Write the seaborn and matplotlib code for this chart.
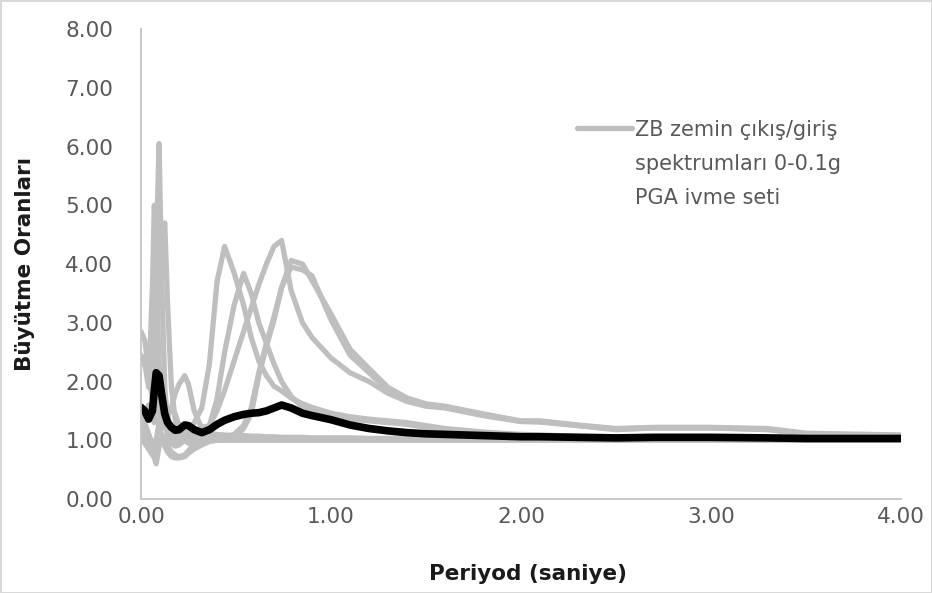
import pandas as pd
import matplotlib
matplotlib.use("Agg")
import matplotlib.pyplot as plt
from matplotlib.lines import Line2D
import seaborn as sns

# Periyot ekseni (saniye)
periyot = [0.00, 0.02, 0.04, 0.06, 0.07, 0.08, 0.095, 0.11, 0.125, 0.14,
           0.16, 0.18, 0.20, 0.23, 0.25, 0.28, 0.32, 0.36, 0.40, 0.44,
           0.49, 0.54, 0.58, 0.62, 0.66, 0.70, 0.74, 0.79, 0.85, 0.90,
           1.00, 1.10, 1.20, 1.30, 1.40, 1.50, 1.60, 1.80, 2.00, 2.10,
           2.30, 2.50, 2.70, 3.00, 3.30, 3.50, 4.00]

# Tek tek kayitlarin buyutme oranlari (gri)
kayit_s1 = [2.85, 2.70, 2.20, 1.90, 2.60, 4.20, 6.05, 3.60, 1.90, 1.30,
            1.05, 0.95, 1.00, 1.05, 1.08, 1.06, 1.05, 1.04, 1.04, 1.03,
            1.03, 1.03, 1.03, 1.03, 1.03, 1.03, 1.02, 1.02, 1.02, 1.02,
            1.02, 1.02, 1.02, 1.02, 1.02, 1.02, 1.02, 1.02, 1.02, 1.02,
            1.02, 1.02, 1.02, 1.02, 1.02, 1.02, 1.02]
kayit_s2 = [2.45, 2.30, 1.90, 3.60, 5.00, 3.90, 2.30, 1.60, 1.30, 1.40,
            1.55, 1.45, 1.25, 1.12, 1.05, 1.04, 1.04, 1.03, 1.03, 1.03,
            1.03, 1.03, 1.03, 1.03, 1.03, 1.03, 1.03, 1.03, 1.03, 1.03,
            1.02, 1.02, 1.02, 1.02, 1.02, 1.02, 1.02, 1.02, 1.02, 1.02,
            1.02, 1.02, 1.02, 1.02, 1.02, 1.02, 1.02]
kayit_s3 = [2.30, 2.40, 2.10, 1.70, 1.90, 2.60, 3.60, 4.40, 4.70, 3.30,
            1.90, 1.35, 1.10, 1.00, 0.95, 1.00, 1.05, 1.05, 1.04, 1.04,
            1.03, 1.03, 1.03, 1.03, 1.03, 1.03, 1.03, 1.03, 1.03, 1.03,
            1.02, 1.02, 1.02, 1.02, 1.02, 1.02, 1.02, 1.02, 1.02, 1.02,
            1.02, 1.02, 1.02, 1.02, 1.02, 1.02, 1.02]
kayit_s4 = [1.35, 1.45, 1.60, 1.40, 1.30, 1.50, 1.80, 2.00, 1.70, 1.45,
            1.55, 1.80, 1.95, 2.10, 1.95, 1.50, 1.20, 1.10, 1.08, 1.06,
            1.05, 1.05, 1.05, 1.04, 1.04, 1.04, 1.04, 1.04, 1.03, 1.03,
            1.03, 1.03, 1.03, 1.03, 1.03, 1.03, 1.03, 1.03, 1.03, 1.03,
            1.03, 1.03, 1.03, 1.03, 1.03, 1.03, 1.03]
kayit_f1 = [1.10, 1.05, 0.95, 0.85, 0.80, 0.90, 1.00, 1.05, 1.00, 0.95,
            0.95, 1.00, 1.02, 1.02, 1.01, 1.01, 1.01, 1.00, 1.00, 1.00,
            1.00, 1.00, 1.00, 1.00, 1.00, 1.00, 1.00, 1.00, 1.00, 1.00,
            1.00, 1.00, 1.00, 1.00, 1.00, 1.00, 1.00, 1.00, 1.00, 1.00,
            1.00, 1.00, 1.00, 1.00, 1.00, 1.00, 1.00]
kayit_f2 = [1.20, 1.30, 1.10, 0.90, 0.70, 0.60, 0.90, 1.30, 1.60, 1.40,
            1.20, 1.10, 1.05, 1.15, 1.20, 1.15, 1.12, 1.12, 1.10, 1.09,
            1.08, 1.08, 1.07, 1.07, 1.06, 1.06, 1.05, 1.05, 1.05, 1.04,
            1.04, 1.04, 1.03, 1.03, 1.03, 1.03, 1.02, 1.02, 1.02, 1.02,
            1.02, 1.02, 1.02, 1.02, 1.02, 1.02, 1.02]
kayit_a = [1.20, 1.25, 1.10, 0.95, 0.90, 1.00, 1.30, 1.60, 1.40, 1.20,
           1.05, 0.95, 0.95, 1.05, 1.15, 1.30, 1.55, 2.30, 3.70, 4.30,
           3.85, 3.30, 2.75, 2.35, 2.10, 1.92, 1.84, 1.72, 1.62, 1.56,
           1.46, 1.40, 1.36, 1.33, 1.30, 1.25, 1.20, 1.14, 1.10, 1.09,
           1.07, 1.06, 1.06, 1.06, 1.05, 1.04, 1.04]
kayit_b = [1.15, 1.10, 1.00, 0.90, 0.85, 0.95, 1.20, 1.40, 1.30, 1.10,
           0.95, 0.90, 0.92, 1.00, 1.08, 1.15, 1.22, 1.25, 1.70, 2.50,
           3.30, 3.84, 3.50, 3.00, 2.65, 2.30, 2.00, 1.75, 1.56, 1.50,
           1.40, 1.36, 1.33, 1.30, 1.27, 1.22, 1.18, 1.12, 1.08, 1.08,
           1.06, 1.05, 1.05, 1.05, 1.04, 1.04, 1.04]
kayit_c = [1.05, 1.00, 0.90, 0.80, 0.78, 0.85, 1.00, 1.10, 1.00, 0.90,
           0.80, 0.75, 0.72, 0.75, 0.82, 0.95, 1.10, 1.25, 1.50, 1.85,
           2.35, 2.85, 3.25, 3.65, 4.00, 4.30, 4.40, 3.55, 3.00, 2.75,
           2.40, 2.15, 2.00, 1.80, 1.66, 1.58, 1.55, 1.42, 1.32, 1.31,
           1.25, 1.18, 1.21, 1.21, 1.18, 1.10, 1.08]
kayit_d = [1.00, 0.95, 0.85, 0.75, 0.72, 0.80, 0.95, 1.00, 0.90, 0.80,
           0.72, 0.70, 0.70, 0.72, 0.78, 0.85, 0.92, 0.98, 1.00, 1.02,
           1.05, 1.20, 1.45, 2.10, 2.60, 3.05, 3.60, 4.06, 4.00, 3.72,
           3.15, 2.55, 2.22, 1.90, 1.72, 1.62, 1.58, 1.45, 1.33, 1.33,
           1.26, 1.20, 1.22, 1.22, 1.20, 1.12, 1.09]
kayit_d2 = [1.05, 1.00, 0.90, 0.78, 0.75, 0.82, 0.98, 1.05, 0.92, 0.82,
            0.75, 0.72, 0.72, 0.74, 0.80, 0.88, 0.95, 1.00, 1.02, 1.05,
            1.10, 1.25, 1.55, 2.15, 2.65, 3.10, 3.60, 3.95, 3.90, 3.80,
            3.05, 2.45, 2.15, 1.85, 1.70, 1.60, 1.56, 1.44, 1.32, 1.32,
            1.25, 1.19, 1.21, 1.21, 1.19, 1.11, 1.08]

# Ortalama egri (siyah)
ortalama = [1.56, 1.50, 1.36, 1.50, 1.85, 2.15, 2.10, 1.75, 1.45, 1.30,
            1.22, 1.17, 1.18, 1.26, 1.25, 1.18, 1.13, 1.18, 1.27, 1.34,
            1.40, 1.44, 1.46, 1.47, 1.50, 1.55, 1.60, 1.55, 1.46, 1.42,
            1.35, 1.26, 1.20, 1.16, 1.13, 1.11, 1.10, 1.08, 1.06, 1.06,
            1.05, 1.04, 1.05, 1.05, 1.04, 1.03, 1.03]

kayitlar = {
    "s1": kayit_s1, "s2": kayit_s2, "s3": kayit_s3, "s4": kayit_s4,
    "f1": kayit_f1, "f2": kayit_f2, "a": kayit_a, "b": kayit_b,
    "c": kayit_c, "d": kayit_d, "d2": kayit_d2,
}

legend_satirlari = ["ZB zemin çıkış/giriş", "spektrumları 0-0.1g", "PGA ivme seti"]
x_ticks = [0, 1, 2, 3, 4]
y_ticks = [0, 1, 2, 3, 4, 5, 6, 7, 8]

GRI = "#BFBFBF"
YAZI_GRI = "#595959"


def build_frame():
    rows = []
    for ad, degerler in kayitlar.items():
        assert len(degerler) == len(periyot), ad
        for t, v in zip(periyot, degerler):
            rows.append({"kayit": ad, "periyot": t, "oran": v})
    return pd.DataFrame(rows)


def main():
    sns.set_style("white")
    plt.rcParams["font.family"] = ["DejaVu Sans"]

    df = build_frame()
    df_ort = pd.DataFrame({"periyot": periyot, "oran": ortalama})

    fig = plt.figure(figsize=(9.32, 5.93), dpi=100)
    ax = fig.add_axes([0.1513, 0.1585, 0.8154, 0.7925])

    sns.lineplot(data=df, x="periyot", y="oran", units="kayit", estimator=None,
                 color=GRI, lw=3.8, ax=ax, legend=False, sort=False)
    sns.lineplot(data=df_ort, x="periyot", y="oran", color="black", lw=5.5,
                 ax=ax, legend=False, sort=False)

    ax.set_xlim(0, 4)
    ax.set_ylim(0, 8)
    ax.set_xticks(x_ticks)
    ax.set_yticks(y_ticks)
    ax.set_xticklabels([f"{v:.2f}" for v in x_ticks])
    ax.set_yticklabels([f"{v:.2f}" for v in y_ticks])
    ax.tick_params(axis="y", length=0, pad=20, labelsize=15.5, labelcolor=YAZI_GRI)
    ax.tick_params(axis="x", length=0, pad=6, labelsize=15.5, labelcolor=YAZI_GRI)

    for side in ["top", "right"]:
        ax.spines[side].set_visible(False)
    for side in ["left", "bottom"]:
        ax.spines[side].set_color("#C4C4C4")
        ax.spines[side].set_linewidth(1.3)

    ax.set_xlabel("Periyod (saniye)", fontsize=15.5, fontweight="bold", color="#1a1a1a")
    ax.set_ylabel("Büyütme Oranları", fontsize=15.5, fontweight="bold", color="#1a1a1a")
    ax.xaxis.set_label_coords(0.509, -0.138)
    ax.yaxis.set_label_coords(-0.14, 0.5)

    # legend (tek gri seri)
    fig.add_artist(Line2D([0.619, 0.678], [0.784, 0.784], color=GRI, lw=3.8,
                          transform=fig.transFigure))
    for i, satir in enumerate(legend_satirlari):
        fig.text(0.681, 0.7707 - i * 0.0573, satir, fontsize=15,
                 color=YAZI_GRI, va="baseline", ha="left")

    fig.patch.set_edgecolor("#D9D9D9")
    fig.patch.set_linewidth(2)

    fig.savefig("out.png", dpi=100, facecolor="white", edgecolor=fig.get_edgecolor())
    plt.close(fig)


if __name__ == "__main__":
    main()
